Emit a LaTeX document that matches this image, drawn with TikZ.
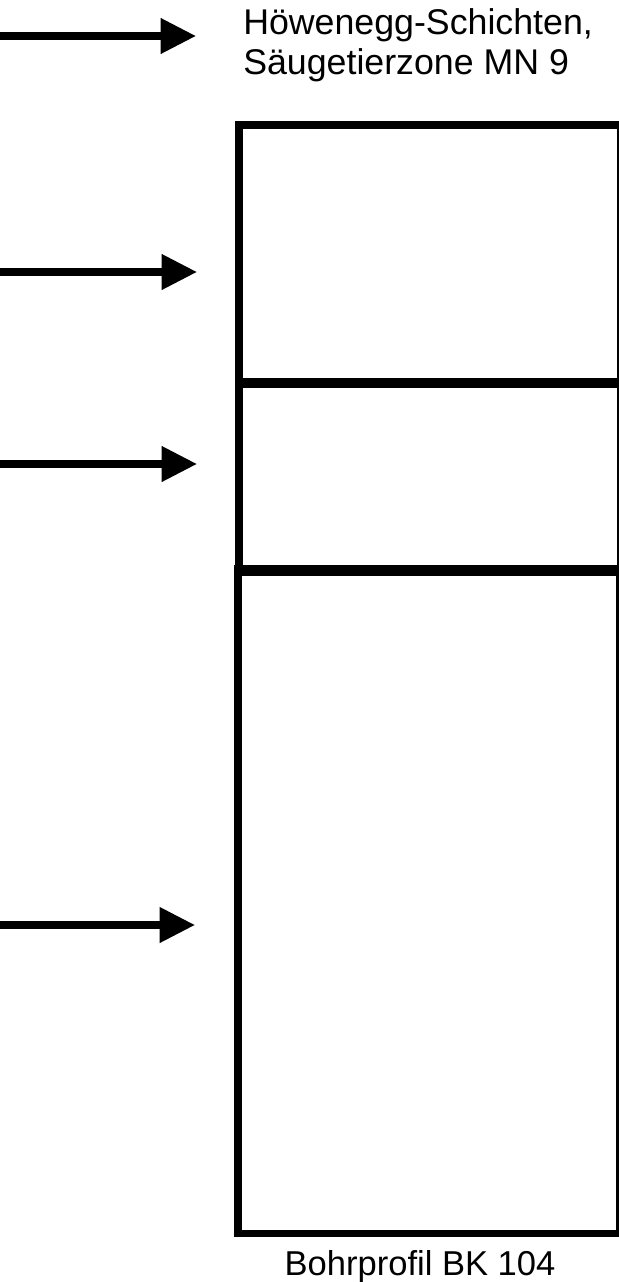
\documentclass[tikz,border=0pt]{standalone}
\usepackage{fontspec}
\setmainfont{Liberation Sans}
\usetikzlibrary{arrows.meta}
\begin{document}
\begin{tikzpicture}[x=0.75pt,y=-0.75pt,
  pointer/.style={line width=5.4pt,-{Triangle[length=26.5pt,width=25.5pt]}},
  layer/.style={draw,line width=5.7pt,line join=miter,inner sep=0pt,minimum width=382*0.75pt,anchor=north west},
  toplabel/.style={inner sep=0pt,anchor=base west,font=\fontsize{26.8}{30}\selectfont},
  botlabel/.style={inner sep=0pt,anchor=base,font=\fontsize{25.9}{30}\selectfont}]
\useasboundingbox (0,0) rectangle (618,1282);
% layers of the borehole column
\node[layer,minimum height=259*0.75pt] (l1) at (235,121) {};
\node[layer,minimum height=190*0.75pt] (l2) at (235,378) {};
\node[layer,minimum height=664.5*0.75pt] (l3) at (234,565) {};
% labels
\node[toplabel] (t1) at (243,34) {Höwenegg-Schichten,};
\node[toplabel] (t2) at (243,74) {Säugetierzone MN 9};
\node[botlabel] (b) at (420,1275) {Bohrprofil BK 104};
% arrows
\coordinate (s1) at (-2,36);  \coordinate (e1) at (196,36);
\coordinate (s2) at (-2,272); \coordinate (e2) at (197,272);
\coordinate (s3) at (-2,464); \coordinate (e3) at (197,464);
\coordinate (s4) at (-2,925); \coordinate (e4) at (195,925);
\draw[pointer] (s1) -- (e1);
\draw[pointer] (s2) -- (e2);
\draw[pointer] (s3) -- (e3);
\draw[pointer] (s4) -- (e4);
\end{tikzpicture}
\end{document}
